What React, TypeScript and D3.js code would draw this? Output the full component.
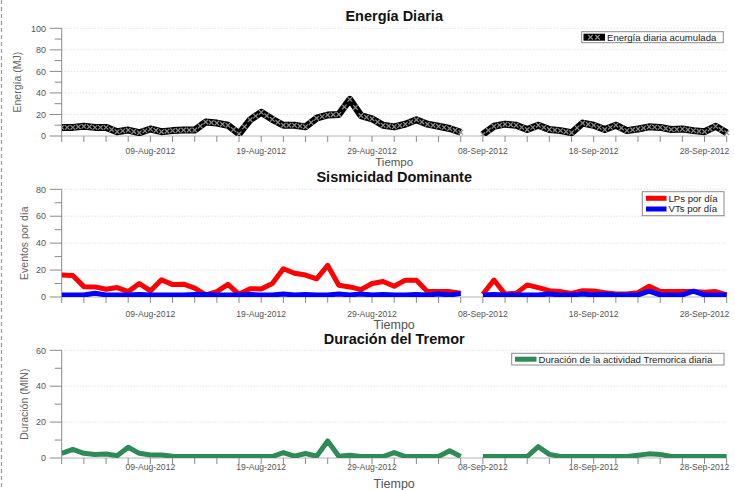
import React from "react";
import * as d3 from "d3";

const FONT = "'Liberation Sans', Arial, Helvetica, sans-serif";

// Days from 01-Aug-2012 to 30-Sep-2012 (61 days); 07-Sep missing (null)
const START = new Date(2012, 7, 1);
const END = new Date(2012, 8, 30);
const dates = d3.range(61).map((i) => d3.timeDay.offset(START, i));

const energia = [8, 8, 9, 8, 8, 4, 5.5, 3, 6.5, 4, 5, 5.5, 5.5, 13, 12, 10, 2, 15, 22, 15.5, 10, 10, 8.5, 16.5, 19.5, 20, 34, 19, 16, 10, 8.5, 11, 15, 11, 9, 7, 3.5, null, 1.5, 9, 11, 10, 6, 10, 6, 5, 3, 12, 10, 6, 10, 5, 6.5, 8.5, 8, 6, 6.5, 5, 4, 9, 3];

const lps = [16.3, 16, 7.7, 7.5, 5.8, 7, 4, 10, 4.5, 12.8, 9.2, 9.5, 6.6, 1.5, 4, 9.4, 2, 6.2, 6, 10, 21, 17.6, 16.3, 13.5, 23.5, 8.7, 7.5, 5.5, 10, 11.5, 8, 12.5, 12.5, 4, 4, 4, 2.8, null, 2, 12.6, 2.2, 2.7, 9, 7, 4.7, 4, 2.7, 4.7, 4.5, 3.2, 2.2, 2.2, 3.2, 8, 4, 4, 4, 4, 3.5, 4, 1.5];

const vts = [1.5, 1.5, 1.5, 2.8, 1.5, 1.5, 1.5, 1.8, 1.5, 1.5, 1.5, 1.5, 1.8, 1.8, 1.5, 1.5, 1.5, 1.8, 1.5, 1.5, 2.2, 1.5, 1.8, 1.5, 1.5, 2.2, 1.5, 2.3, 1.5, 1.8, 1.5, 1.5, 1.8, 1.5, 2.2, 1.5, 2.5, null, 1.5, 1.8, 1.5, 1.5, 1.5, 1.5, 2.2, 1.5, 1.5, 2.2, 1.5, 2, 1.5, 1.5, 1.5, 4.3, 1.5, 1.5, 1.5, 4.3, 1.5, 1.5, 1.5];

const tremor = [2.6, 4.8, 2.6, 2, 2.2, 1.3, 6, 2.6, 1.7, 1.7, 1, 0.8, 0.8, 0.8, 0.8, 0.8, 0.8, 0.8, 0.8, 0.8, 3, 1, 2.5, 1, 9.5, 1, 1.5, 0.8, 0.8, 0.8, 3, 0.8, 0.8, 0.8, 0.8, 4, 0.8, null, 0.8, 0.8, 0.8, 0.8, 0.8, 6.3, 2, 0.8, 0.8, 0.8, 0.8, 0.8, 0.8, 0.8, 1.5, 2.3, 2, 0.8, 0.8, 0.8, 0.8, 0.8, 0.8];

const xTickIdx = d3.range(0, 61, 2);
const xLabelIdx = [8, 18, 28, 38, 48, 58];

const titles = ["Energía Diaria", "Sismicidad Dominante", "Duración del Tremor"];
const yLabels = ["Energía (MJ)", "Eventos por día", "Duración (MIN)"];
const yMaxes = [100, 80, 60];
const legendEnergia = ["Energía diaria acumulada"];
const legendSism = ["LPs por día", "VTs por día"];
const legendTremor = ["Duración de la actividad Tremorica diaria"];

const X0 = 61.7;
const X1 = 726.7;
const x = d3.scaleTime().domain([START, END]).range([X0, X1]);
const fmt = d3.timeFormat("%d-%b-%Y");

type Series = { values: (number | null)[]; color: string; width: number; xmarks?: boolean; label: string };

function XMark({ cx, cy, s = 2.3 }: { cx: number; cy: number; s?: number }) {
  return (
    <g stroke="#8e8e8e" strokeWidth={1.2}>
      <line x1={cx - s} y1={cy - s} x2={cx + s} y2={cy + s} />
      <line x1={cx - s} y1={cy + s} x2={cx + s} y2={cy - s} />
    </g>
  );
}

function Panel(props: {
  id: string;
  top: number;
  bottom: number;
  yMax: number;
  title: string;
  titleY: number;
  yLabel: string;
  yLabelX: number;
  tickLabelY: number;
  tiempoY: number;
  tiempoSize: number;
  series: Series[];
  legend: { x1: number; y1: number; x2: number; y2: number; sx1: number; sx2: number; rowY: number[] };
}) {
  const { id, top, bottom, yMax, series, legend } = props;
  const y = d3.scaleLinear().domain([0, yMax]).range([bottom, top]);
  const majors = d3.range(0, yMax + 1, 20);
  const minors = d3.range(10, yMax, 20);
  const line = d3
    .line<number | null>()
    .defined((d) => d != null)
    .x((_, i) => x(dates[i]))
    .y((d) => y(d as number));

  return (
    <g>
      <defs>
        <clipPath id={id}>
          <rect x={X0} y={top - 10} width={735 - X0} height={bottom - top + 10} />
        </clipPath>
      </defs>
      <text x={(X0 + X1) / 2} y={props.titleY} textAnchor="middle" fontFamily={FONT} fontWeight="bold" fontSize={14.5} fill="#111">
        {props.title}
      </text>
      {majors
        .filter((v) => v > 0)
        .map((v) => (
          <line key={"g" + v} x1={X0} x2={X1} y1={y(v)} y2={y(v)} stroke="#c8c8c8" strokeWidth={0.8} strokeDasharray="1,2" />
        ))}
      <line x1={X0} x2={X0} y1={top} y2={bottom} stroke="#8a8a8a" strokeWidth={1} />
      <line x1={X0} x2={X1} y1={bottom} y2={bottom} stroke="#b5b5b5" strokeWidth={1} />
      {majors.map((v) => (
        <g key={"m" + v}>
          <line x1={X0 - 12} x2={X0} y1={y(v)} y2={y(v)} stroke="#8a8a8a" strokeWidth={1} />
          <text x={46} y={y(v) + 3.2} textAnchor="end" fontFamily={FONT} fontSize={9} fill="#555">
            {v}
          </text>
        </g>
      ))}
      {minors.map((v) => (
        <line key={"n" + v} x1={X0 - 7} x2={X0} y1={y(v)} y2={y(v)} stroke="#8a8a8a" strokeWidth={1} />
      ))}
      {xTickIdx.map((i) => (
        <line key={"xt" + i} x1={x(dates[i])} x2={x(dates[i])} y1={bottom} y2={bottom + 6} stroke="#8a8a8a" strokeWidth={1} />
      ))}
      {xLabelIdx.map((i) => (
        <text key={"xl" + i} x={x(dates[i])} y={props.tickLabelY} textAnchor="middle" fontFamily={FONT} fontSize={8.6} fill="#555">
          {fmt(dates[i])}
        </text>
      ))}
      <g clipPath={`url(#${id})`}>
        {series.map((s, k) => (
          <g key={"s" + k}>
            <path d={line(s.values) || ""} fill="none" stroke={s.color} strokeWidth={s.width} strokeLinejoin="round" />
            {s.xmarks &&
              s.values.map((v, i) => {
                if (v == null) return null;
                const cx = x(dates[i]);
                const cy = y(v);
                const nxt = s.values[i + 1];
                return (
                  <g key={"x" + i}>
                    <XMark cx={cx} cy={cy} />
                    {nxt != null && nxt !== undefined && (
                      <XMark cx={(cx + x(dates[i + 1])) / 2} cy={(cy + y(nxt)) / 2} />
                    )}
                  </g>
                );
              })}
          </g>
        ))}
      </g>
      <rect x={legend.x1} y={legend.y1} width={legend.x2 - legend.x1} height={legend.y2 - legend.y1} fill="#fff" stroke="#8a8a8a" strokeWidth={1} />
      {series.map((s, k) => (
        <g key={"lg" + k}>
          <line x1={legend.sx1} x2={legend.sx2} y1={legend.rowY[k]} y2={legend.rowY[k]} stroke={s.color} strokeWidth={s.width} />
          {s.xmarks && (
            <>
              <XMark cx={legend.sx1 + 7} cy={legend.rowY[k]} />
              <XMark cx={legend.sx1 + 14} cy={legend.rowY[k]} />
            </>
          )}
          <text x={legend.sx2 + 2} y={legend.rowY[k] + 3.4} fontFamily={FONT} fontSize={9.6} fill="#222">
            {s.label}
          </text>
        </g>
      ))}
      <text
        transform={`translate(${props.yLabelX},${(top + bottom) / 2}) rotate(-90)`}
        textAnchor="middle"
        fontFamily={FONT}
        fontSize={10.5}
        fill="#666"
      >
        {props.yLabel}
      </text>
      <text x={(X0 + X1) / 2} y={props.tiempoY} textAnchor="middle" fontFamily={FONT} fontSize={props.tiempoSize} fill="#555">
        Tiempo
      </text>
    </g>
  );
}

export default function App() {
  return (
    <div style={{ position: "fixed", left: 0, top: 0, width: 735, height: 490, background: "#fff" }}>
      <svg width={735} height={490} style={{ display: "block" }}>
        <rect width={735} height={490} fill="#fff" />
        <line x1={1.5} x2={1.5} y1={0} y2={490} stroke="#9a9a9a" strokeWidth={1.2} strokeDasharray="4,3" />
        <Panel
          id="c1"
          top={28.3}
          bottom={136}
          yMax={yMaxes[0]}
          title={titles[0]}
          titleY={20.7}
          yLabel={yLabels[0]}
          yLabelX={21}
          tickLabelY={153.8}
          tiempoY={166.3}
          tiempoSize={11.5}
          series={[{ values: energia, color: "#000", width: 7, xmarks: true, label: legendEnergia[0] }]}
          legend={{ x1: 581.7, y1: 31.7, x2: 723.3, y2: 42.7, sx1: 583.5, sx2: 605, rowY: [37.2] }}
        />
        <Panel
          id="c2"
          top={189.3}
          bottom={297}
          yMax={yMaxes[1]}
          title={titles[1]}
          titleY={182}
          yLabel={yLabels[1]}
          yLabelX={28}
          tickLabelY={317}
          tiempoY={328.5}
          tiempoSize={12.5}
          series={[
            { values: lps, color: "#ff0000", width: 5, label: legendSism[0] },
            { values: vts, color: "#0000ff", width: 5, label: legendSism[1] },
          ]}
          legend={{ x1: 642.3, y1: 191.7, x2: 724, y2: 215.7, sx1: 646, sx2: 666.5, rowY: [198.3, 209] }}
        />
        <Panel
          id="c3"
          top={350.3}
          bottom={458}
          yMax={yMaxes[2]}
          title={titles[2]}
          titleY={343.5}
          yLabel={yLabels[2]}
          yLabelX={28}
          tickLabelY={469.5}
          tiempoY={487.5}
          tiempoSize={12.5}
          series={[{ values: tremor, color: "#2e8b57", width: 5, label: legendTremor[0] }]}
          legend={{ x1: 511.7, y1: 353.3, x2: 724, y2: 365, sx1: 515, sx2: 536.5, rowY: [359.2] }}
        />
      </svg>
    </div>
  );
}
